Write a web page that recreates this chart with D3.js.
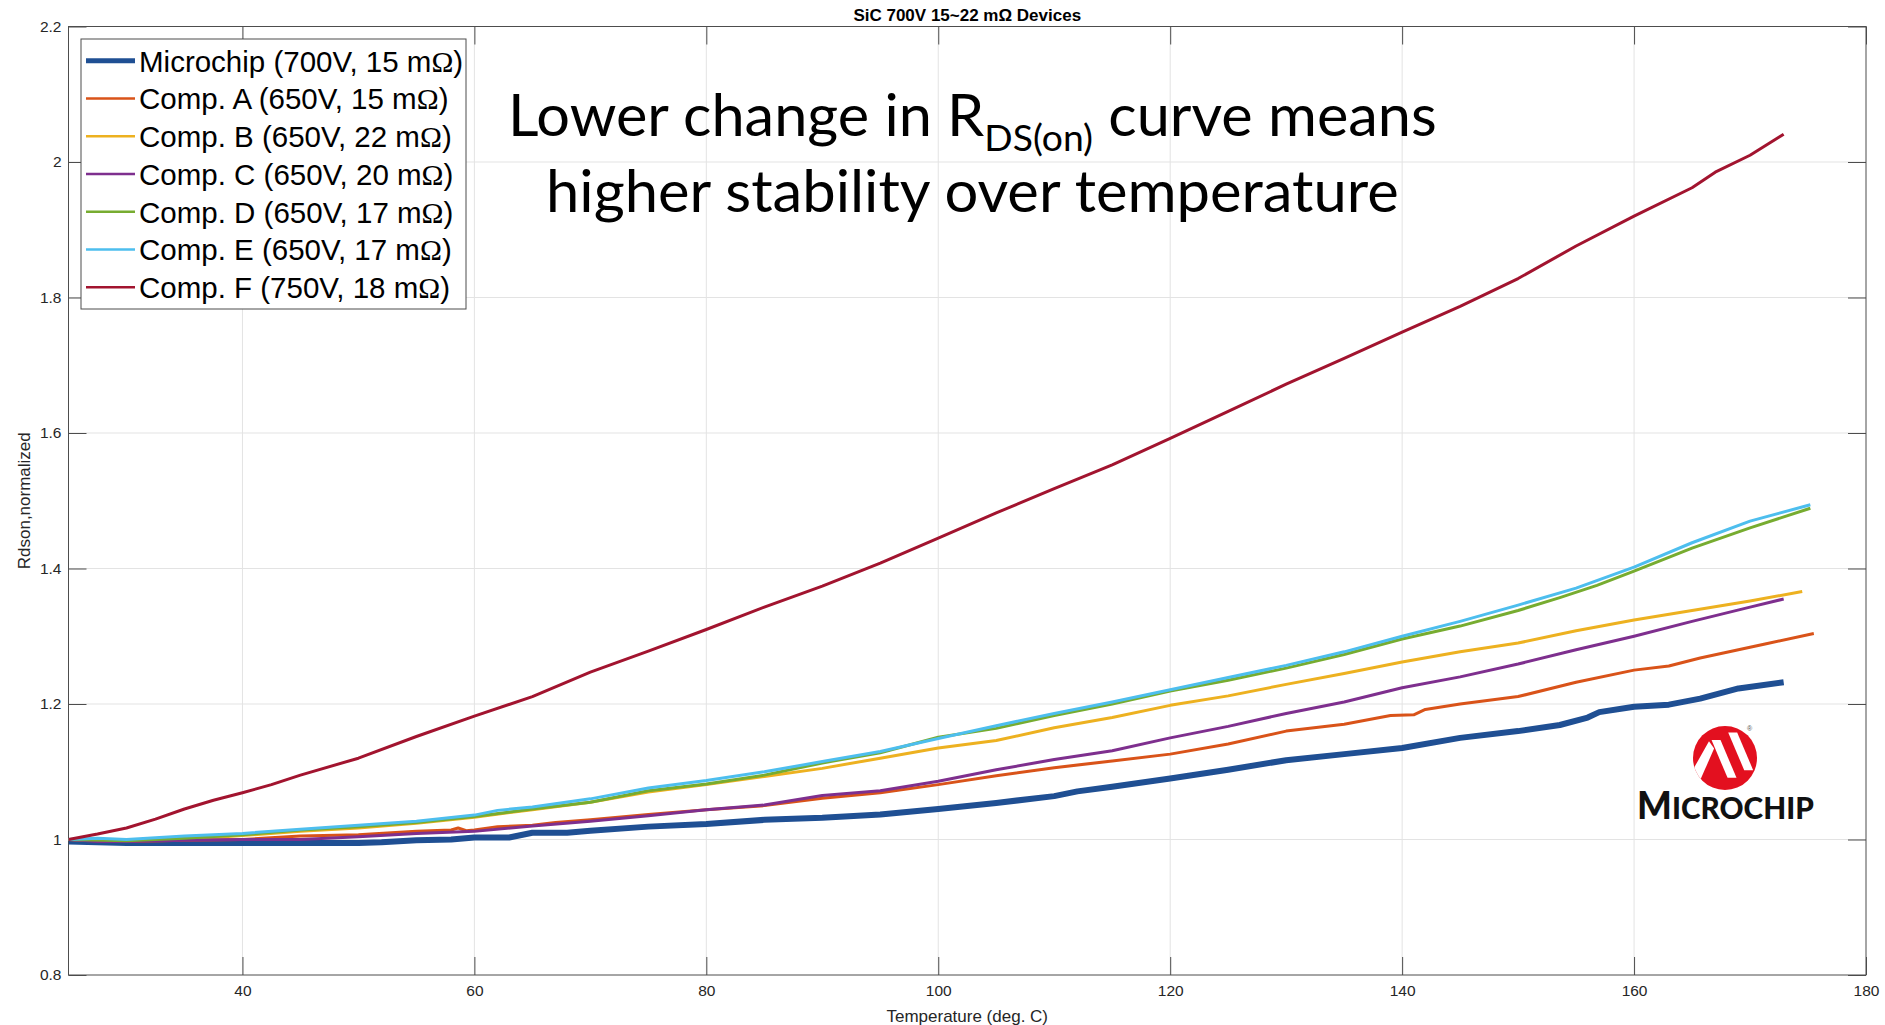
<!DOCTYPE html>
<html><head><meta charset="utf-8">
<script src="https://cdn.jsdelivr.net/npm/d3@7"></script>
<style>html,body{margin:0;padding:0;background:#fff;} svg{display:block;}</style>
</head><body>
<svg id="chart" width="1885" height="1025"></svg>
<script>
const titleText = "SiC 700V 15~22 mΩ Devices";
const xLabelText = "Temperature (deg. C)";
const yLabelText = "Rdson,normalized";
const xTicks = [40, 60, 80, 100, 120, 140, 160, 180];
const yTicks = [0.8, 1, 1.2, 1.4, 1.6, 1.8, 2, 2.2];
const seriesNames = ["Microchip (700V, 15 m\u03A9)", "Comp. A (650V, 15 m\u03A9)", "Comp. B (650V, 22 m\u03A9)",
  "Comp. C (650V, 20 m\u03A9)", "Comp. D (650V, 17 m\u03A9)", "Comp. E (650V, 17 m\u03A9)", "Comp. F (750V, 18 m\u03A9)"];
const seriesColors = ["#1f4f93", "#D95319", "#EDB120", "#7E2F8E", "#77AC30", "#4DBEEE", "#A2142F"];

// [temperature, normalized Rdson]
const microchip = [[25,0.997],[30,0.995],[35,0.995],[40,0.995],[45,0.995],[50,0.995],[52,0.996],[55,0.999],[58,1.000],[60,1.003],[63,1.003],[65,1.010],[68,1.010],[70,1.013],[75,1.019],[80,1.023],[85,1.029],[90,1.032],[95,1.037],[100,1.045],[105,1.054],[110,1.064],[112,1.071],[115,1.078],[120,1.090],[125,1.103],[130,1.117],[135,1.126],[140,1.135],[145,1.150],[150,1.160],[153.6,1.169],[156,1.180],[157,1.188],[160,1.196],[163,1.199],[165.7,1.208],[169,1.223],[172.9,1.232]];
const compA = [[25,1.0],[27.5,0.998],[30,0.997],[35,0.999],[40,1.0],[45,1.005],[50,1.007],[55,1.012],[58,1.014],[58.6,1.017],[59.3,1.013],[60,1.014],[62,1.019],[65,1.021],[67,1.025],[70,1.029],[75,1.037],[80,1.044],[85,1.050],[90,1.061],[95,1.069],[100,1.081],[105,1.094],[110,1.106],[115,1.116],[120,1.126],[125,1.141],[130,1.160],[135,1.170],[139,1.183],[141,1.184],[142,1.192],[145,1.200],[150,1.211],[155,1.232],[160,1.250],[163,1.256],[165.7,1.268],[169,1.280],[171.4,1.289],[175.5,1.304]];
const compB = [[25,1.0],[30,0.998],[35,1.0],[40,1.006],[45,1.012],[50,1.017],[55,1.024],[60,1.033],[65,1.044],[70,1.055],[75,1.070],[80,1.081],[85,1.093],[90,1.105],[95,1.120],[100,1.135],[105,1.146],[110,1.165],[115,1.180],[120,1.198],[125,1.212],[130,1.229],[135,1.245],[140,1.262],[145,1.277],[150,1.290],[155,1.308],[160,1.324],[165,1.338],[170,1.352],[174.5,1.366]];
const compC = [[25,1.0],[27.5,0.997],[30,0.997],[35,0.999],[40,1.0],[45,1.0],[50,1.004],[55,1.009],[60,1.012],[65,1.020],[70,1.027],[75,1.035],[80,1.044],[85,1.051],[90,1.065],[95,1.072],[100,1.086],[105,1.103],[110,1.118],[115,1.131],[120,1.150],[125,1.167],[130,1.186],[135,1.203],[140,1.224],[145,1.240],[150,1.259],[155,1.280],[160,1.300],[165,1.322],[170,1.343],[172.9,1.355]];
const compD = [[25,1.0],[30,0.998],[35,1.002],[40,1.007],[45,1.014],[50,1.019],[55,1.025],[60,1.034],[65,1.045],[70,1.055],[75,1.072],[80,1.082],[85,1.095],[90,1.113],[95,1.128],[100,1.151],[105,1.164],[110,1.183],[115,1.200],[120,1.219],[125,1.235],[130,1.253],[135,1.273],[140,1.296],[145,1.315],[150,1.338],[153.6,1.357],[156.8,1.375],[160,1.396],[165,1.430],[170,1.460],[175.2,1.489]];
const compE = [[25,1.0],[27.5,1.002],[30,1.0],[35,1.005],[40,1.009],[45,1.015],[50,1.021],[55,1.027],[60,1.036],[62,1.043],[65,1.048],[70,1.060],[75,1.076],[80,1.087],[85,1.100],[90,1.115],[95,1.130],[100,1.149],[105,1.168],[110,1.186],[115,1.203],[120,1.221],[125,1.239],[130,1.257],[135,1.277],[140,1.300],[145,1.322],[150,1.346],[155,1.371],[160,1.402],[165,1.438],[170,1.470],[175.2,1.494]];
const compF = [[25,1.0],[27.5,1.008],[30,1.017],[32.5,1.030],[35,1.045],[37.5,1.058],[40,1.069],[42.5,1.081],[45,1.095],[50,1.120],[55,1.152],[60,1.182],[65,1.211],[70,1.247],[75,1.278],[80,1.310],[85,1.343],[90,1.374],[95,1.408],[100,1.445],[105,1.482],[110,1.518],[115,1.553],[120,1.592],[125,1.632],[130,1.672],[135,1.710],[140,1.749],[145,1.787],[150,1.828],[155,1.876],[160,1.920],[165,1.962],[167,1.985],[170,2.010],[172.9,2.041]];
const seriesData = [microchip, compA, compB, compC, compD, compE, compF];
const seriesWidths = [6, 3, 3, 3, 3, 3, 3];

const annotationLine1 = ["Lower change in R", "DS(on)", " curve means"];
const annotationLine2 = "higher stability over temperature";

const svg = d3.select("#chart");
const L = 68.5, R = 1866, T = 26.5, B = 975;
const x = d3.scaleLinear().domain([25, 180]).range([L, R]);
const y = d3.scaleLinear().domain([0.8, 2.2]).range([B, T]);
const axisColor = "#4d4d4d";
const tickFont = "'Liberation Sans', Arial, sans-serif";

// grid
const grid = svg.append("g");
grid.selectAll(".gx").data(xTicks.filter(d => d < 180)).join("line")
  .attr("x1", d => x(d)).attr("x2", d => x(d)).attr("y1", T).attr("y2", B)
  .attr("stroke", "#e3e3e3").attr("stroke-width", 1);
grid.selectAll(".gy").data(yTicks.filter(d => d > 0.8 && d < 2.2)).join("line")
  .attr("y1", d => y(d)).attr("y2", d => y(d)).attr("x1", L).attr("x2", R)
  .attr("stroke", "#e3e3e3").attr("stroke-width", 1);

// axes
const tick = 18;
const fmt = d3.format("~g");
const gxB = svg.append("g").attr("transform", `translate(0,${B})`)
  .call(d3.axisBottom(x).tickValues(xTicks).tickFormat(fmt).tickSizeInner(-tick).tickSizeOuter(0).tickPadding(10));
const gxT = svg.append("g").attr("transform", `translate(0,${T})`)
  .call(d3.axisTop(x).tickValues(xTicks).tickFormat("").tickSizeInner(-tick).tickSizeOuter(0));
const gyL = svg.append("g").attr("transform", `translate(${L},0)`)
  .call(d3.axisLeft(y).tickValues(yTicks).tickFormat(fmt).tickSizeInner(-tick).tickSizeOuter(0).tickPadding(7));
const gyR = svg.append("g").attr("transform", `translate(${R},0)`)
  .call(d3.axisRight(y).tickValues(yTicks).tickFormat("").tickSizeInner(-tick).tickSizeOuter(0));
[gxB, gxT, gyL, gyR].forEach(g => {
  g.select(".domain").remove();
  g.selectAll("line").attr("stroke", axisColor).attr("stroke-width", 1);
  g.selectAll("text").attr("fill", "#262626").style("font-family", tickFont).style("font-size", "15.5px");
});
svg.append("rect").attr("x", L).attr("y", T).attr("width", R - L).attr("height", B - T)
  .attr("fill", "none").attr("stroke", axisColor).attr("stroke-width", 1);

// lines
svg.append("clipPath").attr("id", "clip").append("rect")
  .attr("x", L).attr("y", T).attr("width", R - L).attr("height", B - T);
const line = d3.line().x(d => x(d[0])).y(d => y(d[1])).curve(d3.curveLinear);
svg.append("g").attr("clip-path", "url(#clip)").selectAll("path").data(seriesData).join("path")
  .attr("d", line).attr("fill", "none")
  .attr("stroke", (d, i) => seriesColors[i]).attr("stroke-width", (d, i) => seriesWidths[i])
  .attr("stroke-linejoin", "round").attr("stroke-linecap", "butt");

// title & labels
svg.append("text").attr("x", (L + R) / 2).attr("y", 21).attr("text-anchor", "middle")
  .style("font-family", tickFont).style("font-weight", "bold").style("font-size", "17px").attr("fill", "#000")
  .text(titleText);
svg.append("text").attr("x", (L + R) / 2).attr("y", 1022).attr("text-anchor", "middle")
  .style("font-family", tickFont).style("font-size", "17px").attr("fill", "#262626").text(xLabelText);
svg.append("text").attr("transform", `translate(30,${(T + B) / 2}) rotate(-90)`).attr("text-anchor", "middle")
  .style("font-family", tickFont).style("font-size", "17px").attr("fill", "#262626").text(yLabelText);

// legend
const lg = svg.append("g");
lg.append("rect").attr("x", 81).attr("y", 39).attr("width", 385).attr("height", 270)
  .attr("fill", "#fff").attr("stroke", axisColor).attr("stroke-width", 1);
seriesNames.forEach((name, i) => {
  const base = 71.7 + i * 37.75;
  lg.append("line").attr("x1", 86).attr("x2", 135).attr("y1", base - 11).attr("y2", base - 11)
    .attr("stroke", seriesColors[i]).attr("stroke-width", i === 0 ? 5 : 2.5);
  const t = lg.append("text").attr("x", 139).attr("y", base)
    .style("font-family", tickFont).style("font-size", "29.5px").attr("fill", "#000");
  const parts = name.split("\u03A9");
  t.append("tspan").text(parts[0]);
  t.append("tspan").style("font-family", "'Liberation Serif', serif").text("\u03A9");
  t.append("tspan").text(parts[1]);
});

// annotation
function fitText(sel, x0, targetW, baseline) {
  const w = sel.node().getBBox().width;
  sel.attr("transform", `translate(${x0},${baseline}) scale(${targetW / w},1)`);
}
const annFont = "Lato, 'Open Sans', sans-serif";
const a1 = svg.append("text").attr("x", 0).attr("y", 0)
  .style("font-family", annFont).style("font-size", "59px").attr("fill", "#000");
a1.append("tspan").text(annotationLine1[0]);
a1.append("tspan").attr("dy", 15).style("font-size", "37px").text(annotationLine1[1]);
a1.append("tspan").attr("dy", -15).text(annotationLine1[2]);
fitText(a1, 508, 929, 136);
const a2 = svg.append("text").attr("x", 0).attr("y", 0)
  .style("font-family", annFont).style("font-size", "59px").attr("fill", "#000").text(annotationLine2);
fitText(a2, 546, 853, 212);

// Microchip logo
const logo = svg.append("g").attr("transform", "translate(1725,758)");
const r = 32;
logo.append("clipPath").attr("id", "logoclip").append("circle").attr("r", r);
logo.append("circle").attr("r", r).attr("fill", "#e3101f");
const shapes = [
  [[-0.50,-0.52],[-0.34,-0.30],[-0.80,0.75],[-1.05,0.45]],
  [[-0.42,-0.56],[-0.14,-0.56],[0.36,0.62],[0.08,0.62]],
  [[0.10,-0.80],[0.38,-0.80],[0.88,0.38],[0.60,0.38]]
];
const lgClip = logo.append("g").attr("clip-path", "url(#logoclip)");
shapes.forEach(s => lgClip.append("polygon").attr("points", s.map(p => [p[0] * r, p[1] * r].join(",")).join(" ")).attr("fill", "#fff"));
logo.append("text").attr("x", 22).attr("y", -27).style("font-size", "7px").style("font-family", tickFont).attr("fill", "#555").text("\u00AE");
const mc = svg.append("text").attr("x", 0).attr("y", 0)
  .style("font-family", "Lato, sans-serif").style("font-weight", 900).attr("fill", "#111");
mc.append("tspan").style("font-size", "37px").text("M");
mc.append("tspan").style("font-size", "30px").text("ICROCHIP");
fitText(mc, 1637, 177, 819);
</script>
</body></html>
